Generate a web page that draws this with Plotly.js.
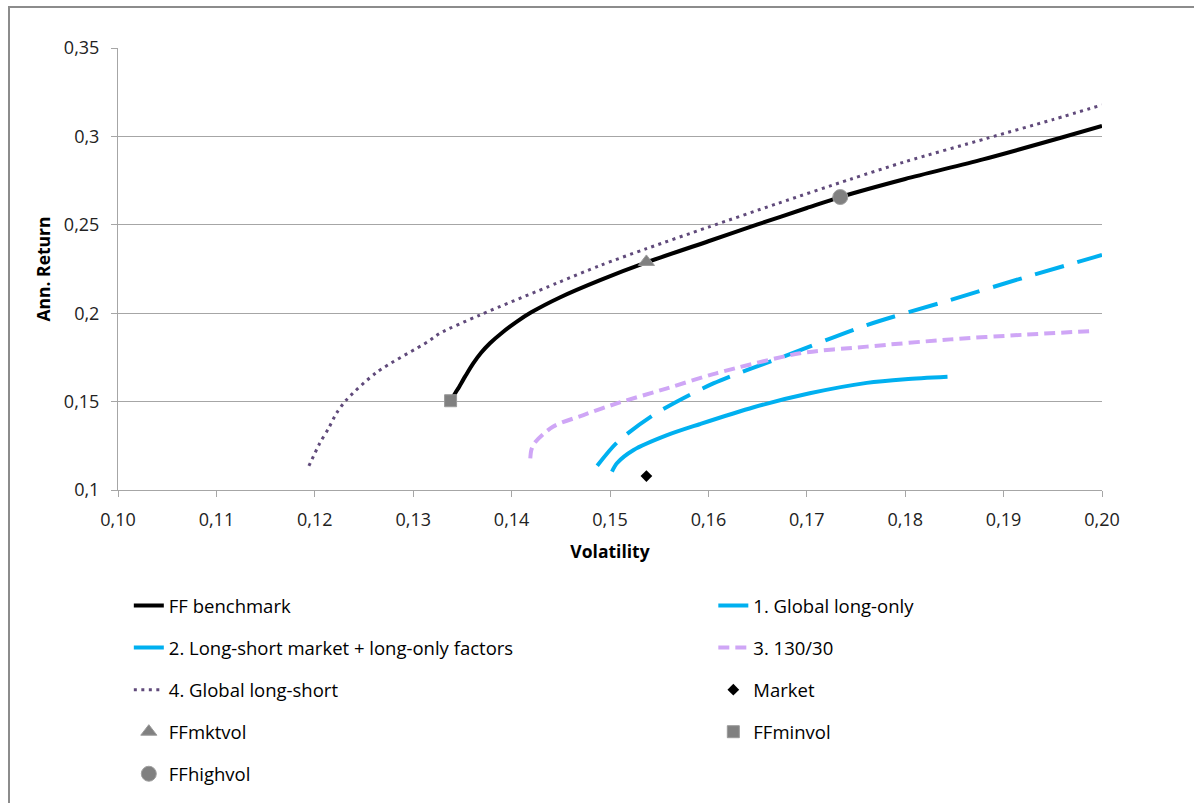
<!DOCTYPE html>
<html>
<head>
<meta charset="utf-8">
<script src="https://cdn.plot.ly/plotly-3.0.1.min.js"></script>
<style>
  html, body { margin: 0; padding: 0; background: #fff; }
  #wrap { position: relative; width: 1194px; height: 803px; overflow: hidden; }
  #frame { position: absolute; left: 8px; top: 6px; width: 1300px; height: 900px;
           border-left: 2px solid #8c8c8c; border-top: 2px solid #8c8c8c; pointer-events: none; }
  #chart { position: absolute; left: 0; top: 0; width: 1194px; height: 803px; }
</style>
</head>
<body>
<div id="wrap">
  <div id="chart"></div>
  <div id="frame"></div>
</div>
<script>
// ---- Data ----
const ffVol  = [0.1338, 0.1345, 0.1353, 0.1361, 0.1369, 0.1378, 0.1390, 0.1405, 0.1420, 0.1449, 0.1490, 0.1537, 0.1600, 0.1650, 0.1700, 0.1734, 0.1800, 0.1879, 0.1960, 0.2000];
const ffRet  = [0.1505, 0.1568, 0.1644, 0.1716, 0.1776, 0.1830, 0.1888, 0.1951, 0.2005, 0.2089, 0.2187, 0.2287, 0.2407, 0.2502, 0.2595, 0.2657, 0.2759, 0.2870, 0.2995, 0.3059];

const gloVol = [0.1502, 0.1507, 0.1524, 0.1558, 0.1591, 0.1646, 0.1703, 0.1761, 0.1800, 0.1843];
const gloRet = [0.1104, 0.1151, 0.1226, 0.1310, 0.1372, 0.1468, 0.1547, 0.1606, 0.1627, 0.1641];

const lsmVol = [0.1487, 0.1507, 0.1544, 0.1605, 0.1676, 0.1761, 0.1846, 0.1920, 0.2000];
const lsmRet = [0.1137, 0.1268, 0.1424, 0.1603, 0.1754, 0.1933, 0.2075, 0.2200, 0.2329];

const v130Vol = [0.1419, 0.1420, 0.1423, 0.1442, 0.1473, 0.1507, 0.1558, 0.1608, 0.1693, 0.1761, 0.1846, 0.1920, 0.1993];
const v130Ret = [0.1179, 0.1225, 0.1264, 0.1358, 0.1424, 0.1490, 0.1575, 0.1660, 0.1773, 0.1811, 0.1852, 0.1878, 0.1900];

const glsVol = [0.1194, 0.1205, 0.1214, 0.1222, 0.1232, 0.1263, 0.1315, 0.1327, 0.1368, 0.1446, 0.1490, 0.1537, 0.1600, 0.1670, 0.1744, 0.1800, 0.1883, 0.1950, 0.2000];
const glsRet = [0.1136, 0.1264, 0.1349, 0.1434, 0.1509, 0.1666, 0.1839, 0.1886, 0.1990, 0.2170, 0.2270, 0.2365, 0.2487, 0.2620, 0.2757, 0.2857, 0.2989, 0.3095, 0.3178];

const marketPt   = {vol: [0.1537], ret: [0.1079]};
const ffMktVolPt = {vol: [0.1537], ret: [0.2290]};
const ffMinVolPt = {vol: [0.1338], ret: [0.1505]};
const ffHighVolPt= {vol: [0.1734], ret: [0.2657]};

const xTicks = [0.10, 0.11, 0.12, 0.13, 0.14, 0.15, 0.16, 0.17, 0.18, 0.19, 0.20];
const yTicks = [0.10, 0.15, 0.20, 0.25, 0.30, 0.35];

const FONT = '"Open Sans", "Noto Sans", sans-serif';

const traces = [
  {name: 'FF benchmark', x: ffVol, y: ffRet, mode: 'lines', line: {color: '#000000', width: 4, shape: 'spline', smoothing: 0.8},
   legend: 'legend', legendgroup: 'a'},
  {name: '2. Long-short market + long-only factors', x: lsmVol, y: lsmRet, mode: 'lines',
   line: {color: '#00B0F0', width: 4, dash: '30px,14px', shape: 'spline', smoothing: 0.8},
   legend: 'legend', legendgroup: 'b'},
  {name: '4. Global long-short', x: glsVol, y: glsRet, mode: 'lines',
   line: {color: '#604A7B', width: 3, dash: '3px,4.5px', shape: 'spline', smoothing: 0.8},
   legend: 'legend', legendgroup: 'c'},
  {name: 'FFmktvol', x: ffMktVolPt.vol, y: ffMktVolPt.ret, mode: 'markers',
   marker: {symbol: 'triangle-up', size: 14, color: '#808080', line: {color: '#9a9a9a', width: 1}},
   legend: 'legend', legendgroup: 'd'},
  {name: 'FFhighvol', x: ffHighVolPt.vol, y: ffHighVolPt.ret, mode: 'markers',
   marker: {symbol: 'circle', size: 15, color: '#808080', line: {color: '#a0a0a0', width: 1}},
   legend: 'legend', legendgroup: 'e'},
  {name: '1. Global long-only', x: gloVol, y: gloRet, mode: 'lines', line: {color: '#00B0F0', width: 4, shape: 'spline', smoothing: 0.8},
   legend: 'legend2', legendgroup: 'f'},
  {name: '3. 130/30', x: v130Vol, y: v130Ret, mode: 'lines',
   line: {color: '#CFA6F6', width: 4, dash: '11px,6px', shape: 'spline', smoothing: 0.8},
   legend: 'legend2', legendgroup: 'g'},
  {name: 'Market', x: marketPt.vol, y: marketPt.ret, mode: 'markers',
   marker: {symbol: 'diamond', size: 9, color: '#000000'},
   legend: 'legend2', legendgroup: 'h'},
  {name: 'FFminvol', x: ffMinVolPt.vol, y: ffMinVolPt.ret, mode: 'markers',
   marker: {symbol: 'square', size: 12, color: '#808080', line: {color: '#9a9a9a', width: 1}},
   legend: 'legend2', legendgroup: 'i'}
];

const legendCommon = {
  orientation: 'v', yanchor: 'top', xanchor: 'left', tracegroupgap: 15,
  font: {family: FONT, size: 18.5, color: '#000000'}, bgcolor: 'rgba(0,0,0,0)',
  traceorder: 'grouped', itemsizing: 'trace'
};

const layout = {
  width: 1194, height: 803,
  margin: {l: 118, r: 92, t: 48, b: 313, autoexpand: false},
  paper_bgcolor: 'rgba(0,0,0,0)', plot_bgcolor: '#ffffff',
  separators: ',.',
  font: {family: FONT, size: 18, color: '#222222'},
  showlegend: true,
  xaxis: {
    range: [0.10, 0.20], tickvals: xTicks, tickformat: '.2f',
    showgrid: false, zeroline: false,
    showline: true, linecolor: '#a6a6a6', linewidth: 1,
    ticks: 'outside', ticklen: 6, tickcolor: '#a6a6a6', ticklabelstandoff: 7,
    tickfont: {family: FONT, size: 18, color: '#222222'},
    title: {text: '<b>Volatility</b>', font: {family: FONT, size: 17.5, color: '#000000'}, standoff: 16}
  },
  yaxis: {
    range: [0.10, 0.35], tickvals: yTicks,
    showgrid: true, gridcolor: '#a6a6a6', gridwidth: 1, zeroline: false,
    showline: true, linecolor: '#a6a6a6', linewidth: 1,
    ticks: 'outside', ticklen: 6, tickcolor: '#a6a6a6', ticklabelstandoff: 8,
    tickfont: {family: FONT, size: 18, color: '#222222'},
    title: {text: '<b>Ann. Return</b>', font: {family: FONT, size: 17.5, color: '#000000'}, standoff: 8}
  },
  legend: Object.assign({}, legendCommon, {x: 0.011, y: -0.2195}),
  legend2: Object.assign({}, legendCommon, {x: 0.605, y: -0.2195})
};

Plotly.newPlot('chart', traces, layout, {displayModeBar: false, staticPlot: true});
</script>
</body>
</html>
